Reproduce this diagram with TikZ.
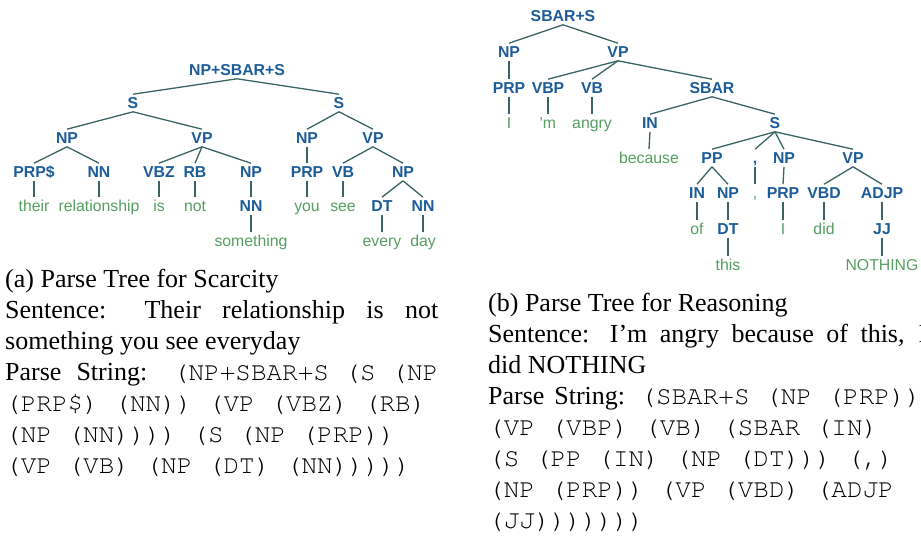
\documentclass[tikz,border=0pt]{standalone}
\usepackage{fontspec}
\setmainfont{Liberation Serif}
\setmonofont{TeX Gyre Cursor}
\newfontfamily\treefont{Liberation Sans}
\definecolor{tblue}{RGB}{28,92,152}
\definecolor{tgreen}{RGB}{86,158,98}
\definecolor{tline}{RGB}{58,100,100}
\begin{document}
\begin{tikzpicture}[x=1pt,y=-1pt,
  lab/.style={font=\treefont\bfseries\fontsize{15.8}{16}\selectfont, text=tblue, inner sep=3pt, text height=11.2pt, text depth=0pt, anchor=center},
  wrd/.style={font=\treefont\fontsize{15.8}{16}\selectfont, text=tgreen, inner sep=3pt, text height=11.2pt, text depth=0pt, anchor=center},
  edge/.style={draw=tline, line width=1.3pt},
  captxt/.style={font=\fontsize{26}{31}\selectfont, anchor=base west, inner sep=0pt},
]
\useasboundingbox (0,0) rectangle (921,541);
\fill[white] (0,0) rectangle (921,541);
% ---------------- Tree (a)
\node[lab] (a0) at (237,70) {NP+SBAR+S};
\node[lab] (a1) at (133,103) {S};
\node[lab] (a2) at (339,103) {S};
\node[lab] (a3) at (67,138) {NP};
\node[lab] (a4) at (202,138) {VP};
\node[lab] (a5) at (307,138) {NP};
\node[lab] (a6) at (373,138) {VP};
\node[lab] (a7) at (34,172) {PRP\$};
\node[lab] (a8) at (99,172) {NN};
\node[lab] (a9) at (159,172) {VBZ};
\node[lab] (a10) at (195,172) {RB};
\node[lab] (a11) at (251,172) {NP};
\node[lab] (a12) at (307,172) {PRP};
\node[lab] (a13) at (343,172) {VB};
\node[lab] (a14) at (403,172) {NP};
\node[wrd] (w1) at (34,206) {their};
\node[wrd] (w2) at (99,206) {relationship};
\node[wrd] (w3) at (159,206) {is};
\node[wrd] (w4) at (195,206) {not};
\node[lab] (a15) at (251,206) {NN};
\node[wrd] (w5) at (307,206) {you};
\node[wrd] (w6) at (343,206) {see};
\node[lab] (a16) at (382,206) {DT};
\node[lab] (a17) at (423,206) {NN};
\node[wrd] (w7) at (251,241) {something};
\node[wrd] (w8) at (382,241) {every};
\node[wrd] (w9) at (423,241) {day};
\foreach \p/\c in {a0/a1,a0/a2,a1/a3,a1/a4,a2/a5,a2/a6,a3/a7,a3/a8,a4/a9,a4/a10,a4/a11,a5/a12,a6/a13,a6/a14,a7/w1,a8/w2,a9/w3,a10/w4,a11/a15,a15/w7,a12/w5,a13/w6,a14/a16,a14/a17,a16/w8,a17/w9}
  \draw[edge] (\p.south) -- (\c.north);
% ---------------- Tree (b)
\node[lab] (b0) at (563,16) {SBAR+S};
\node[lab] (b1) at (509,52) {NP};
\node[lab] (b2) at (618,52) {VP};
\node[lab] (b3) at (509,88) {PRP};
\node[lab] (b4) at (548,88) {VBP};
\node[lab] (b5) at (592,88) {VB};
\node[lab] (b6) at (712,88) {SBAR};
\node[wrd] (v1) at (509,123) {I};
\node[wrd] (v2) at (548,123) {'m};
\node[wrd] (v3) at (592,123) {angry};
\node[lab] (b7) at (650,123) {IN};
\node[lab] (b8) at (775,123) {S};
\node[wrd] (v4) at (649,158) {because};
\node[lab] (b9) at (712,158) {PP};
\node[lab] (b10) at (755,158) {,};
\node[lab] (b11) at (784,158) {NP};
\node[lab] (b12) at (853,158) {VP};
\node[lab] (b13) at (697,193) {IN};
\node[lab] (b14) at (728,193) {NP};
\node[wrd] (v5) at (755,193) {,};
\node[lab] (b15) at (783,193) {PRP};
\node[lab] (b16) at (824,193) {VBD};
\node[lab] (b17) at (882,193) {ADJP};
\node[wrd] (v6) at (697,229) {of};
\node[lab] (b18) at (728,229) {DT};
\node[wrd] (v7) at (783,229) {I};
\node[wrd] (v8) at (824,229) {did};
\node[lab] (b19) at (882,229) {JJ};
\node[wrd] (v9) at (728,265) {this};
\node[wrd] (v10) at (882,265) {NOTHING};
\foreach \p/\c in {b0/b1,b0/b2,b1/b3,b3/v1,b2/b4,b2/b5,b2/b6,b4/v2,b5/v3,b6/b7,b6/b8,b7/v4,b8/b9,b8/b10,b8/b11,b8/b12,b9/b13,b9/b14,b13/v6,b14/b18,b18/v9,b10/v5,b11/b15,b15/v7,b12/b16,b12/b17,b16/v8,b17/b19,b19/v10}
  \draw[edge] (\p.south) -- (\c.north);
% ---------------- Caption (a)
\node[captxt] (ca1) at (5,287) {(a) Parse Tree for Scarcity};
\node[captxt] (ca2) at (5,318) {\makebox[433pt][s]{Sentence: Their relationship is not}};
\node[captxt] (ca3) at (5,349) {something you see everyday};
\node[captxt] (ca4) at (5,380) {\makebox[433pt][s]{Parse String: \texttt{(NP+SBAR+S (S (NP}}};
\node[captxt] (ca5) at (5,411) {\texttt{(PRP\$) (NN)) (VP (VBZ) (RB)}};
\node[captxt] (ca6) at (5,442) {\texttt{(NP (NN)))) (S (NP (PRP))}};
\node[captxt] (ca7) at (5,473) {\texttt{(VP (VB) (NP (DT) (NN)))))}};
% ---------------- Caption (b)
\node[captxt] (cb1) at (488,311) {(b) Parse Tree for Reasoning};
\node[captxt] (cb2) at (488,342) {\makebox[439pt][s]{Sentence: I’m angry because of this, I}};
\node[captxt] (cb3) at (488,373) {did NOTHING};
\node[captxt] (cb4) at (488,404) {\makebox[433pt][s]{Parse String: \texttt{(SBAR+S (NP (PRP))}}};
\node[captxt] (cb5) at (488,435) {\texttt{(VP (VBP) (VB) (SBAR (IN)}};
\node[captxt] (cb6) at (488,466) {\texttt{(S (PP (IN) (NP (DT))) (,)}};
\node[captxt] (cb7) at (488,497) {\texttt{(NP (PRP)) (VP (VBD) (ADJP}};
\node[captxt] (cb8) at (488,528) {\texttt{(JJ)))))))}};
\end{tikzpicture}
\end{document}
